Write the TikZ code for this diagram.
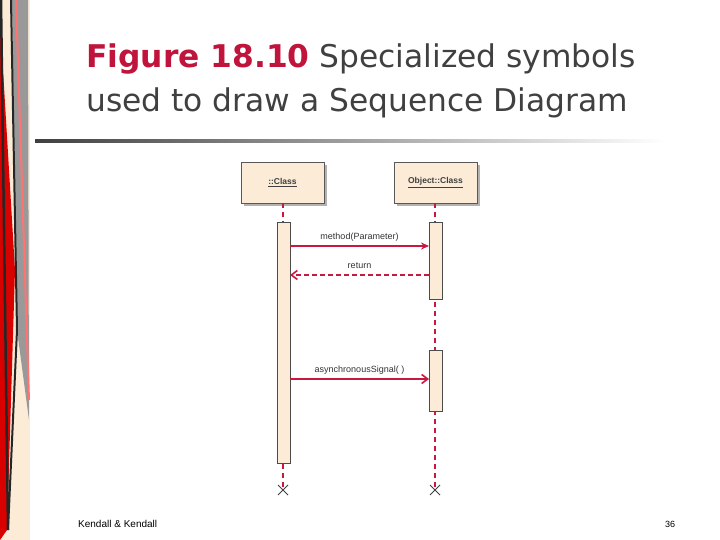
\documentclass[tikz,border=0pt]{standalone}
\usepackage{fontspec}
\setmainfont{Liberation Sans}
\newfontfamily\titlefont{DejaVu Sans}
\usetikzlibrary{arrows.meta,calc}
\definecolor{umlred}{HTML}{C8183E}
\definecolor{boxfill}{HTML}{FBEBD7}
\definecolor{titlered}{HTML}{C0143C}
\begin{document}
\begin{tikzpicture}[x=1pt,y=-1pt,
  cls/.style={draw=gray!70!black,fill=boxfill,minimum width=83pt,minimum height=41pt,font=\fontsize{8.5}{9}\selectfont\bfseries,text=gray!50!black,inner sep=0pt},
  act/.style={draw=gray!60!black,fill=boxfill,line width=0.5pt},
  life/.style={draw=umlred,line width=1.6pt,dash pattern=on 5pt off 4pt},
  msg/.style={draw=umlred,line width=1.6pt},
  lbl/.style={font=\fontsize{9}{10}\selectfont,text=gray!40!black,inner sep=1pt}]
\useasboundingbox (0,0) rectangle (720,540);
\fill[white] (0,0) rectangle (720,540);
% left decorative strip
\fill[boxfill] (0,0) rectangle (30,540);
\fill[gray!80] (12,0) -- (28,0) -- (29,420) -- (17,330) -- cycle;
\fill[red!85!black] (0,20) -- (15,270) -- (7,530) -- (0,540) -- cycle;
\draw[black!85,line width=2.5pt] (1,0) -- (8,530);
\draw[black!85,line width=2pt] (11,0) -- (17,330) -- (8,530);
\draw[red!55,line width=2pt] (16,0) -- (29,400);
% title
\node[anchor=base west,inner sep=0pt,font=\titlefont\fontsize{31.3}{36}\selectfont,text=black!75] (t1) at (86,68) {\textcolor{titlered}{\textbf{Figure 18.10}} Specialized symbols};
\node[anchor=base west,inner sep=0pt,font=\titlefont\fontsize{31.3}{36}\selectfont,text=black!75] (t2) at (86,112) {used to draw a Sequence Diagram};
\shade[left color=black!75,right color=white] (35,139.5) rectangle (665,142.5);
% class boxes
\fill[gray!60] (244,165) rectangle (327,206);
\fill[gray!60] (397,165) rectangle (480,206);
\node[cls] (c1) at (282.5,182.5) {\underline{::Class}};
\node[cls] (c2) at (435.5,182.5) {\underline{Object::Class}};
% lifelines
\coordinate (e1) at (283,490);
\coordinate (e2) at (435,490);
\draw[life] (c1.south -| e1) -- (e1);
\draw[life] (c2.south -| e2) -- (e2);
\draw[gray!50!black,line width=0.8pt] ($(e1)+(-5,-5)$) -- ($(e1)+(5,5)$) ($(e1)+(-5,5)$) -- ($(e1)+(5,-5)$);
\draw[gray!50!black,line width=0.8pt] ($(e2)+(-5,-5)$) -- ($(e2)+(5,5)$) ($(e2)+(-5,5)$) -- ($(e2)+(5,-5)$);
% activations
\draw[act] (277,222) rectangle (290,463);
\draw[act] (429,222) rectangle (442,299);
\draw[act] (429,350) rectangle (442,411);
\coordinate (a1) at (290,246); \coordinate (b1) at (429,246);
\coordinate (a2) at (290,275); \coordinate (b2) at (429,275);
\coordinate (a3) at (290,379); \coordinate (b3) at (429,379);
\draw[msg,-{Stealth[length=8pt,width=7pt]}] (a1) -- (b1);
\draw[msg,dash pattern=on 5pt off 3pt,-{Straight Barb[length=6pt,width=9pt]}] (b2) -- (a2);
\draw[msg,-{Straight Barb[length=6pt,width=9pt]}] (a3) -- (b3);
\node[lbl] at (359.5,237) {method(Parameter)};
\node[lbl] at (359.5,266) {return};
\node[lbl] at (359.5,370) {asynchronousSignal( )};
% footer
\node[anchor=base west,font=\fontsize{10}{11}\selectfont,inner sep=0pt] (f1) at (78,527) {Kendall \& Kendall};
\node[anchor=base west,font=\fontsize{9}{10}\selectfont,inner sep=0pt] (f2) at (665,527) {36};
\end{tikzpicture}
\end{document}
